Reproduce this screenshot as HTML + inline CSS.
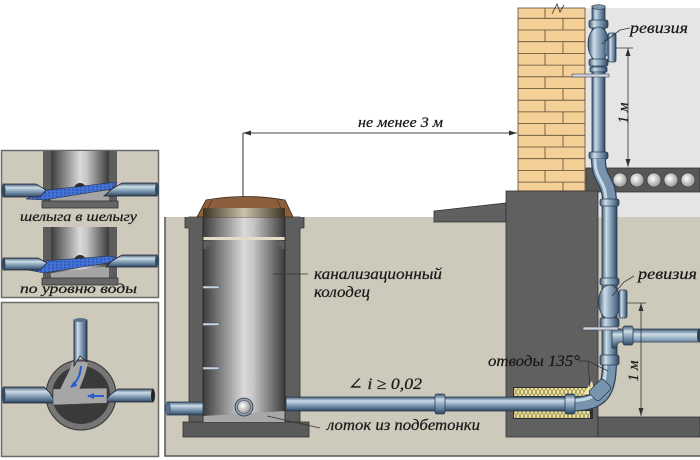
<!DOCTYPE html>
<html><head><meta charset="utf-8"><style>html,body{margin:0;padding:0;background:#fff}svg{display:block}
text{font-family:"Liberation Serif","DejaVu Serif",serif;font-style:italic;fill:#1a1a1a;stroke:#1a1a1a;stroke-width:0.25}</style></head>
<body>
<svg width="700" height="460" viewBox="0 0 700 460" xmlns="http://www.w3.org/2000/svg">
<defs>
<linearGradient id="pH" x1="0" y1="0" x2="0" y2="1"><stop offset="0" stop-color="#3e5670"/><stop offset="0.28" stop-color="#cddde9"/><stop offset="0.55" stop-color="#8aa4bb"/><stop offset="0.85" stop-color="#4d6883"/><stop offset="1" stop-color="#2e4257"/></linearGradient>
<linearGradient id="pV" x1="0" y1="0" x2="1" y2="0"><stop offset="0" stop-color="#3e5670"/><stop offset="0.28" stop-color="#cddde9"/><stop offset="0.55" stop-color="#8aa4bb"/><stop offset="0.85" stop-color="#4d6883"/><stop offset="1" stop-color="#2e4257"/></linearGradient>
<linearGradient id="cyl" x1="0" y1="0" x2="1" y2="0"><stop offset="0" stop-color="#3c3c3c"/><stop offset="0.5" stop-color="#dadada"/><stop offset="0.62" stop-color="#c4c4c4"/><stop offset="1" stop-color="#3a3a3a"/></linearGradient>
<linearGradient id="brz" x1="0" y1="0" x2="1" y2="0"><stop offset="0" stop-color="#3a3122"/><stop offset="0.5" stop-color="#cbc3ab"/><stop offset="1" stop-color="#3a3122"/></linearGradient>
<radialGradient id="hole" cx="0.4" cy="0.4" r="0.7"><stop offset="0" stop-color="#ffffff"/><stop offset="1" stop-color="#8a8a8a"/></radialGradient>
<pattern id="dots" width="4" height="3" patternUnits="userSpaceOnUse"><rect width="4" height="3" fill="#4372d6"/><circle cx="1" cy="1" r="0.7" fill="#1e3f8f"/></pattern>
<pattern id="yel" width="4" height="8" patternUnits="userSpaceOnUse"><rect width="4" height="8" fill="#ebe1a2"/><path d="M0,0 L2,4 L4,0 M0,8 L2,4 L4,8" stroke="#8a7d40" stroke-width="0.7" fill="none"/></pattern>
<marker id="ar" markerWidth="8" markerHeight="6" refX="8" refY="3" orient="auto-start-reverse" markerUnits="userSpaceOnUse"><path d="M0,0.5 L8,3 L0,5.5 z" fill="#333"/></marker>
<marker id="ab" markerWidth="7" markerHeight="6" refX="6" refY="3" orient="auto" markerUnits="userSpaceOnUse"><path d="M0,0 L7,3 L0,6 z" fill="#2a5bd0"/></marker>
</defs>
<rect width="700" height="460" fill="#fff"/>

<!-- LEFT PANELS -->
<rect x="1.5" y="150.5" width="157" height="147" fill="#cdc9bb" stroke="#6b6b6b" stroke-width="1.5"/>
<rect x="1.5" y="302.5" width="157" height="154" fill="#cdc9bb" stroke="#6b6b6b" stroke-width="1.5"/>

<!-- panel 1 top -->
<rect x="43" y="151" width="74" height="50" fill="#5d5d5d"/>
<rect x="51" y="151" width="58" height="50" fill="url(#cyl)"/>
<polygon points="51,198 109,190 109,201 51,201" fill="#a4a4a4"/>
<rect x="42" y="201" width="76" height="7" fill="#666" stroke="#333" stroke-width="0.8"/>
<path d="M73,192 A7,9 0 0 1 87,192 Z" fill="#2d2d2d"/>
<polygon points="26,199 40,191 117,182 112,189 44,200" fill="url(#dots)" stroke="#223" stroke-width="0.5"/>
<path d="M3,184 H36 L46,190 L40,197 H3 Z" fill="url(#pH)" stroke="#223" stroke-width="0.8"/>
<ellipse cx="3.5" cy="190.5" rx="2" ry="6.5" fill="#34495f"/>
<path d="M122,183 H157 V196 H104 L112,189 Z" fill="url(#pH)" stroke="#223" stroke-width="0.8"/>
<ellipse cx="157" cy="189.5" rx="2" ry="6.5" fill="#34495f"/>
<text x="20" y="221" font-size="14" textLength="117" lengthAdjust="spacingAndGlyphs">шелыга в шелыгу</text>

<!-- panel 1 bottom -->
<rect x="43" y="227" width="74" height="51" fill="#5d5d5d"/>
<rect x="51" y="227" width="58" height="51" fill="url(#cyl)"/>
<polygon points="51,273 109,266 109,278 51,278" fill="#a4a4a4"/>
<rect x="42" y="278" width="76" height="7" fill="#666" stroke="#333" stroke-width="0.8"/>
<path d="M73,264 A7,9 0 0 1 87,264 Z" fill="#2d2d2d"/>
<polygon points="28,270 44,261 110,256 118,258 108,263 44,273" fill="url(#dots)" stroke="#223" stroke-width="0.5"/>
<path d="M3,258 H38 L47,263 L40,270 H3 Z" fill="url(#pH)" stroke="#223" stroke-width="0.8"/>
<ellipse cx="3.5" cy="264" rx="2" ry="6" fill="#34495f"/>
<path d="M122,255 H157 V267 H106 L112,261 Z" fill="url(#pH)" stroke="#223" stroke-width="0.8"/>
<ellipse cx="157" cy="261" rx="2" ry="6" fill="#34495f"/>
<text x="20" y="293" font-size="14" textLength="117" lengthAdjust="spacingAndGlyphs">по уровню воды</text>

<!-- panel 2 -->
<circle cx="81" cy="395" r="35" fill="#767676" stroke="#333"/>
<circle cx="81" cy="395" r="29" fill="#3a3a3a"/>
<path d="M3,387 H44 L50,393 L56,403 H3 Z" fill="url(#pH)" stroke="#223" stroke-width="0.8"/>
<ellipse cx="3.5" cy="395" rx="2" ry="8" fill="#34495f"/>
<path d="M118,389 H153 V402 H104 L110,395 Z" fill="url(#pH)" stroke="#223" stroke-width="0.8"/>
<ellipse cx="153" cy="395.5" rx="2" ry="6.5" fill="#222"/>
<polygon points="53,389 107,388 107,403 53,405" fill="#a6a6a6" stroke="#444" stroke-width="0.6"/>
<path d="M72,362 H88 C86,375 81,384 79,390 H60 C64,380 70,372 72,362 Z" fill="#a6a6a6"/>
<path d="M74,320 H87 V362 L80,356 L74,366 Z" fill="url(#pV)" stroke="#223" stroke-width="0.8"/>
<ellipse cx="80.5" cy="320" rx="6.5" ry="2" fill="#5c738a"/>
<path d="M81,366 Q80,380 71,387" stroke="#2a5bd0" stroke-width="2" fill="none" marker-end="url(#ab)"/>
<line x1="104" y1="396" x2="88" y2="396" stroke="#2a5bd0" stroke-width="2" marker-end="url(#ab)"/>

<!-- MAIN GROUND -->
<rect x="165" y="217" width="535" height="239" fill="#cdc9bb"/>
<path d="M165,217 V456 H700" stroke="#555" fill="none" stroke-width="1.5"/>

<!-- house interior -->
<rect x="585" y="8" width="115" height="160" fill="#e5e5e5"/>
<rect x="598" y="192" width="102" height="25" fill="#e5e5e5"/>

<!-- brick wall -->
<rect x="518" y="8" width="67" height="183" fill="#f5d096" stroke="#5a4a35" stroke-width="0.8"/>
<path stroke="#5a4a35" stroke-width="0.8" fill="none" d="M518,18.3H585M518,30H585M518,41.7H585M518,53.4H585M518,65.1H585M518,76.8H585M518,88.5H585M518,100.2H585M518,111.9H585M518,123.6H585M518,135.3H585M518,147H585M518,158.7H585M518,170.4H585M518,182.1H585
M545,8V18.3M563,18.3V30M545,30V41.7M563,41.7V53.4M545,53.4V65.1M563,65.1V76.8M545,76.8V88.5M563,88.5V100.2M545,100.2V111.9M563,111.9V123.6M545,123.6V135.3M563,135.3V147M545,147V158.7M563,158.7V170.4M545,170.4V182.1M563,182.1V191"/>
<path d="M552,14 L557,4 L560,12 L564,5" stroke="#333" stroke-width="0.8" fill="none"/>

<!-- hollow slab -->
<rect x="586" y="168" width="114" height="24" fill="#575757" stroke="#333" stroke-width="0.8"/>
<circle cx="620" cy="180" r="7" fill="url(#hole)" stroke="#333" stroke-width="0.6"/>
<circle cx="637" cy="180" r="7" fill="url(#hole)" stroke="#333" stroke-width="0.6"/>
<circle cx="654" cy="180" r="7" fill="url(#hole)" stroke="#333" stroke-width="0.6"/>
<circle cx="671" cy="180" r="7" fill="url(#hole)" stroke="#333" stroke-width="0.6"/>
<circle cx="688" cy="180" r="7" fill="url(#hole)" stroke="#333" stroke-width="0.6"/>

<!-- foundation -->
<polygon points="434,211 506,203 506,222 434,222" fill="#606060" stroke="#333" stroke-width="0.8"/>
<rect x="506" y="191" width="92" height="246" fill="#606060" stroke="#333" stroke-width="0.8"/>
<rect x="598" y="417" width="102" height="20" fill="#5c5c5c" stroke="#333" stroke-width="0.8"/>
<rect x="513" y="387" width="80" height="32" fill="#2e2e2e"/>
<rect x="514" y="388" width="76" height="8" fill="url(#yel)"/>
<rect x="514" y="411" width="76" height="7" fill="url(#yel)"/>
<polygon points="583,394 592,381 595,394" fill="#efe6a8"/>

<!-- WELL -->
<rect x="189" y="217" width="111" height="205" fill="#5e5e5e" stroke="#333" stroke-width="0.8"/>
<rect x="185" y="217" width="119" height="11" fill="#5e5e5e"/>
<path d="M185,217 V228 H189 M304,217 V228 H300" stroke="#333" stroke-width="0.8" fill="none"/>
<rect x="183" y="422" width="126" height="15" fill="#5a5a5a" stroke="#333" stroke-width="0.8"/>
<rect x="203" y="217" width="82" height="20" fill="url(#cyl)"/>
<rect x="203" y="237" width="82" height="3" fill="#e6dcc6"/>
<path d="M203,240 H285 V411 L203,416 Z" fill="url(#cyl)"/>
<polygon points="203,416 285,411 285,422 203,422" fill="#a8a8a8"/>
<path d="M203,241 H211 V246 H207 V249 H203 Z M285,241 H277 V246 H281 V249 H285 Z" fill="#5e5e5e"/>
<line x1="203" y1="217" x2="203" y2="422" stroke="#222" stroke-width="0.8"/>
<line x1="285" y1="217" x2="285" y2="422" stroke="#222" stroke-width="0.8"/>
<rect x="203" y="286" width="16" height="2.5" fill="#c3d4e4" stroke="#445" stroke-width="0.4"/>
<rect x="203" y="323" width="16" height="2.5" fill="#c3d4e4" stroke="#445" stroke-width="0.4"/>
<rect x="203" y="367" width="16" height="2.5" fill="#c3d4e4" stroke="#445" stroke-width="0.4"/>
<!-- lid -->
<path d="M197,217 L206,200 Q245,193 285,200 L293,217 Z" fill="#8b5e3c" stroke="#3a2a1a" stroke-width="0.8"/>
<path d="M203,217 L212,200 M285,217 L277,200" stroke="#4a3320" stroke-width="0.8"/>
<rect x="203" y="208" width="82" height="9" fill="url(#brz)"/>
<!-- outlet hole -->
<circle cx="244" cy="407" r="9" fill="#8ca0b4" stroke="#333" stroke-width="0.8"/>
<circle cx="244" cy="407" r="6.5" fill="url(#hole)" stroke="#445" stroke-width="0.6"/>

<!-- main pipe -->
<rect x="167" y="402" width="36" height="13" fill="url(#pH)" stroke="#2a3c50" stroke-width="0.8"/>
<ellipse cx="168" cy="408.5" rx="2.2" ry="6.5" fill="#5f7890" stroke="#2a3c50" stroke-width="0.6"/>
<rect x="286" y="397" width="289" height="14" fill="url(#pH)" stroke="#2a3c50" stroke-width="0.8"/>
<rect x="435" y="394" width="10" height="20" rx="2" fill="url(#pH)" stroke="#2a3c50" stroke-width="0.8"/>

<!-- RISER -->
<rect x="592" y="6" width="13" height="156" fill="url(#pV)" stroke="#2a3c50" stroke-width="0.8"/>
<ellipse cx="598.5" cy="7" rx="6.5" ry="2.5" fill="#7f98b0" stroke="#2a3c50" stroke-width="0.6"/>
<rect x="589" y="20" width="19" height="8" rx="2" fill="url(#pV)" stroke="#2a3c50" stroke-width="0.8"/>
<ellipse cx="598.5" cy="44" rx="10.5" ry="17" fill="url(#pV)" stroke="#2a3c50" stroke-width="0.8"/>
<rect x="605" y="40" width="4" height="15" fill="#6f8aa5" stroke="#2a3c50" stroke-width="0.6"/>
<rect x="608" y="33" width="8" height="29" rx="2" fill="url(#pV)" stroke="#2a3c50" stroke-width="0.8"/>
<rect x="589" y="59" width="19" height="7" rx="2" fill="url(#pV)" stroke="#2a3c50" stroke-width="0.8"/>
<rect x="590" y="67" width="17" height="5" rx="1" fill="url(#pV)" stroke="#2a3c50" stroke-width="0.8"/>
<rect x="572" y="74" width="37" height="3" fill="#cdd6de" stroke="#445" stroke-width="0.6"/>
<rect x="589" y="152" width="19" height="7" rx="2" fill="url(#pV)" stroke="#2a3c50" stroke-width="0.8"/>
<path d="M598.5,159 C598.5,182 609.5,178 609.5,203" stroke="#2c4055" stroke-width="15" fill="none"/>
<path d="M598.5,159 C598.5,182 609.5,178 609.5,203" stroke="#7893ad" stroke-width="12.5" fill="none"/>
<path d="M595,159 C595,182 606,178 606,203" stroke="#c6d8e6" stroke-width="3" fill="none"/>
<rect x="602" y="205" width="15" height="155" fill="url(#pV)" stroke="#2a3c50" stroke-width="0.8"/>
<rect x="600" y="199" width="19" height="7" rx="2" fill="url(#pV)" stroke="#2a3c50" stroke-width="0.8"/>
<!-- lower revision -->
<rect x="600" y="278" width="19" height="7" rx="2" fill="url(#pV)" stroke="#2a3c50" stroke-width="0.8"/>
<ellipse cx="609.5" cy="302" rx="11" ry="17" fill="url(#pV)" stroke="#2a3c50" stroke-width="0.8"/>
<rect x="619" y="290" width="8" height="28" rx="2" fill="url(#pV)" stroke="#2a3c50" stroke-width="0.8"/>
<rect x="600" y="318" width="19" height="9" rx="2" fill="url(#pV)" stroke="#2a3c50" stroke-width="0.8"/>
<!-- tee -->
<path d="M612,329 H700 V342 H620 Q617,342 617,348 L612,348 Z" fill="url(#pH)" stroke="#2a3c50" stroke-width="0.8"/>
<ellipse cx="699" cy="335.5" rx="2" ry="6.5" fill="#2c3e50"/>
<rect x="623" y="326" width="10" height="19" rx="2" fill="url(#pH)" stroke="#2a3c50" stroke-width="0.8"/>
<rect x="583" y="327" width="35" height="3" fill="#cdd6de" stroke="#445" stroke-width="0.6"/>
<!-- bend -->
<path d="M609.5,360 C609.5,392 603,404 572,404" stroke="#2c4055" stroke-width="15" fill="none"/>
<path d="M609.5,360 C609.5,392 603,404 572,404" stroke="#7893ad" stroke-width="12.5" fill="none"/>
<path d="M606,360 C606,388 600,400.5 572,400.5" stroke="#c6d8e6" stroke-width="3" fill="none"/>
<rect x="600" y="355" width="19" height="10" rx="2" fill="url(#pV)" stroke="#2a3c50" stroke-width="0.8"/>
<rect x="-10" y="-7" width="20" height="14" rx="3" transform="translate(600,390) rotate(-45)" fill="#7893ad" stroke="#2a3c50" stroke-width="0.8"/>
<rect x="565" y="394" width="10" height="20" rx="2" fill="url(#pH)" stroke="#2a3c50" stroke-width="0.8"/>

<!-- DIMENSIONS -->
<line x1="243" y1="133" x2="243" y2="197" stroke="#333" stroke-width="1"/>
<line x1="243" y1="133" x2="517" y2="133" stroke="#444" stroke-width="1" marker-start="url(#ar)" marker-end="url(#ar)"/>
<line x1="615" y1="48" x2="633" y2="48" stroke="#333" stroke-width="0.8"/>
<line x1="628" y1="48" x2="628" y2="167" stroke="#333" stroke-width="0.8" marker-start="url(#ar)" marker-end="url(#ar)"/>
<line x1="627" y1="303" x2="646" y2="303" stroke="#333" stroke-width="0.8"/>
<line x1="641" y1="303" x2="641" y2="416" stroke="#333" stroke-width="0.8" marker-start="url(#ar)" marker-end="url(#ar)"/>

<!-- LEADERS -->
<line x1="273" y1="274" x2="308" y2="274" stroke="#333" stroke-width="0.8"/>
<line x1="267" y1="416" x2="320" y2="428" stroke="#333" stroke-width="0.8"/>
<path d="M602,44 Q612,36 620,30 L630,28" stroke="#333" stroke-width="0.8" fill="none"/>
<path d="M612,296 L624,282 L634,276" stroke="#333" stroke-width="0.8" fill="none"/>
<path d="M578,361 H588 L608,371 M588,361 L590,387" stroke="#333" stroke-width="0.8" fill="none"/>

<!-- LABELS -->
<text x="358" y="127" font-size="15" textLength="85" lengthAdjust="spacingAndGlyphs">не менее 3 м</text>
<text x="314" y="279" font-size="16" textLength="128" lengthAdjust="spacingAndGlyphs">канализационный</text>
<text x="314" y="297" font-size="16" textLength="56" lengthAdjust="spacingAndGlyphs">колодец</text>
<text x="348" y="389" font-size="16" textLength="74" lengthAdjust="spacingAndGlyphs">∠ i ≥ 0,02</text>
<text x="327" y="430" font-size="16" textLength="153" lengthAdjust="spacingAndGlyphs">лоток из подбетонки</text>
<text x="488" y="366" font-size="16" textLength="92" lengthAdjust="spacingAndGlyphs">отводы 135°</text>
<text x="630" y="33" font-size="16" textLength="58" lengthAdjust="spacingAndGlyphs">ревизия</text>
<text x="638" y="279" font-size="16" textLength="59" lengthAdjust="spacingAndGlyphs">ревизия</text>
<text transform="translate(628,113) rotate(-90)" text-anchor="middle" font-size="15">1 м</text>
<text transform="translate(638,371) rotate(-90)" text-anchor="middle" font-size="15">1 м</text>
</svg>
</body></html>
